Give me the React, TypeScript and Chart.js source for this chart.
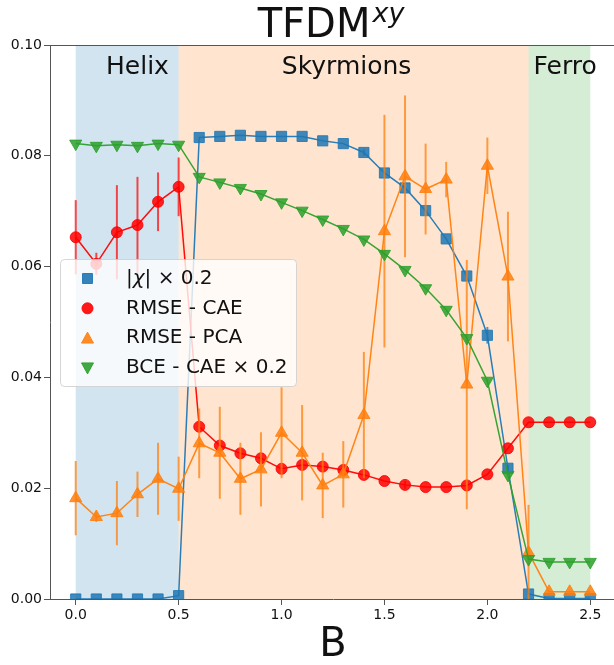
import { useEffect, useRef } from 'react';
import { Chart, registerables } from 'chart.js';

Chart.register(...registerables);

const FONT = '"DejaVu Sans", "Liberation Sans", sans-serif';

const B_VALUES = [0, 0.1, 0.2, 0.3, 0.4, 0.5, 0.6, 0.7, 0.8, 0.9, 1.0, 1.1, 1.2, 1.3, 1.4, 1.5, 1.6, 1.7, 1.8, 1.9, 2.0, 2.1, 2.2, 2.3, 2.4, 2.5];

const CHI = [0, 0, 0, 0, 0, 0.0006, 0.0833, 0.0835, 0.0837, 0.0835, 0.0835, 0.0835, 0.0827, 0.0822, 0.0806, 0.0769, 0.0742, 0.0701, 0.065, 0.0583, 0.0476, 0.0236, 0.0009, 0.0001, 0.0001, 0.0001];
const CHI_ERR = [0, 0, 0, 0, 0, 0, 0, 0, 0, 0, 0, 0, 0, 0, 0.0006, 0, 0, 0, 0, 0, 0.0015, 0.0006, 0, 0, 0, 0];

const RMSE_CAE = [0.0653, 0.0605, 0.0662, 0.0675, 0.0717, 0.0744, 0.0311, 0.0277, 0.0263, 0.0254, 0.0235, 0.0242, 0.0239, 0.0233, 0.0224, 0.0213, 0.0206, 0.0202, 0.0202, 0.0205, 0.0225, 0.0272, 0.0319, 0.0319, 0.0319, 0.0319];
const RMSE_CAE_ERR = [0.0067, 0.002, 0.0085, 0.0087, 0.0053, 0.0053, 0, 0, 0, 0.0005, 0, 0, 0, 0, 0, 0, 0.0007, 0, 0, 0, 0, 0, 0, 0, 0, 0];

const RMSE_PCA = [0.0182, 0.0148, 0.0155, 0.0189, 0.0217, 0.0199, 0.0281, 0.0264, 0.0217, 0.0234, 0.03, 0.0264, 0.0205, 0.0225, 0.0332, 0.0664, 0.0763, 0.074, 0.0757, 0.0387, 0.0782, 0.0582, 0.0084, 0.0013, 0.0013, 0.0013];
const RMSE_PCA_ERR = [0.0067, 0.0009, 0.0058, 0.0041, 0.0065, 0.0058, 0.0063, 0.0083, 0.0065, 0.0067, 0.0082, 0.0086, 0.0059, 0.006, 0.0114, 0.021, 0.0146, 0.0082, 0.0032, 0.0225, 0.0051, 0.0117, 0.0086, 0, 0, 0];

const BCE_CAE = [0.0822, 0.0818, 0.082, 0.0818, 0.0822, 0.082, 0.0762, 0.0752, 0.0742, 0.0731, 0.0716, 0.0701, 0.0685, 0.0668, 0.0649, 0.0623, 0.0594, 0.0561, 0.0522, 0.0471, 0.0394, 0.0224, 0.0072, 0.0067, 0.0067, 0.0067];

const X_TICKS = [0, 0.5, 1.0, 1.5, 2.0, 2.5];
const X_TICK_LABELS = ['0.0', '0.5', '1.0', '1.5', '2.0', '2.5'];
const Y_TICKS = [0, 0.02, 0.04, 0.06, 0.08, 0.1];
const Y_TICK_LABELS = ['0.00', '0.02', '0.04', '0.06', '0.08', '0.10'];

const REGION_NAMES = ['Helix', 'Skyrmions', 'Ferro'];
const REGION_STARTS = [0, 0.5, 2.2];
const REGION_ENDS = [0.5, 2.2, 2.5];
const REGION_COLORS = ['rgba(31,119,180,0.2)', 'rgba(255,127,14,0.2)', 'rgba(44,160,44,0.2)'];
const REGION_LABEL_X = [0.3, 1.316, 2.378];
const REGION_LABEL_Y = [0.0948, 0.0948, 0.0948];

const LEGEND_LABELS = ['|χ| × 0.2', 'RMSE - CAE', 'RMSE - PCA', 'BCE - CAE × 0.2'];

const BLUE = '31,119,180';
const RED = '255,0,0';
const ORANGE = '255,127,14';
const GREEN = '44,160,44';

const AXIS_COLOR = '#555';
const TEXT_COLOR = '#111';

function rgba(c: string, a: number) {
  return `rgba(${c},${a})`;
}

const bgPlugin = {
  id: 'regions',
  beforeDraw(chart: any) {
    const { ctx, chartArea, scales } = chart;
    const x = scales.x;
    ctx.save();
    ctx.beginPath();
    ctx.rect(chartArea.left, chartArea.top, chartArea.right - chartArea.left, chartArea.bottom - chartArea.top);
    ctx.clip();
    for (let i = 0; i < REGION_NAMES.length; i++) {
      const x0 = x.getPixelForValue(REGION_STARTS[i]);
      const x1 = x.getPixelForValue(REGION_ENDS[i]);
      ctx.fillStyle = REGION_COLORS[i];
      ctx.fillRect(x0, chartArea.top, x1 - x0, chartArea.bottom - chartArea.top);
    }
    ctx.restore();
  },
  beforeDatasetsDraw(chart: any) {
    const { ctx, scales } = chart;
    ctx.save();
    ctx.fillStyle = TEXT_COLOR;
    ctx.font = `25px ${FONT}`;
    ctx.textAlign = 'center';
    ctx.textBaseline = 'alphabetic';
    for (let i = 0; i < REGION_NAMES.length; i++) {
      ctx.fillText(REGION_NAMES[i], scales.x.getPixelForValue(REGION_LABEL_X[i]), scales.y.getPixelForValue(REGION_LABEL_Y[i]));
    }
    ctx.restore();
  },
};

const errorPlugin = {
  id: 'errorbars',
  beforeDatasetDraw(chart: any, args: any) {
    const ds = chart.data.datasets[args.index];
    if (!ds.errors) return;
    const { ctx, chartArea, scales } = chart;
    ctx.save();
    ctx.beginPath();
    ctx.rect(chartArea.left, chartArea.top, chartArea.right - chartArea.left, chartArea.bottom - chartArea.top);
    ctx.clip();
    ctx.strokeStyle = ds.errColor;
    ctx.lineWidth = 2;
    ds.data.forEach((p: any, i: number) => {
      const e = ds.errors[i];
      if (!e) return;
      const px = scales.x.getPixelForValue(p.x);
      ctx.beginPath();
      ctx.moveTo(px, scales.y.getPixelForValue(p.y - e));
      ctx.lineTo(px, scales.y.getPixelForValue(p.y + e));
      ctx.stroke();
    });
    ctx.restore();
  },
};

function drawMarker(ctx: CanvasRenderingContext2D, kind: string, x: number, y: number, color: string) {
  ctx.save();
  ctx.fillStyle = rgba(color, 0.9);
  ctx.strokeStyle = rgba(color, 0.9);
  ctx.lineWidth = 1;
  ctx.beginPath();
  if (kind === 'rect') {
    ctx.rect(x - 5, y - 5, 10, 10);
  } else if (kind === 'circle') {
    ctx.arc(x, y, 5.5, 0, Math.PI * 2);
  } else if (kind === 'up') {
    ctx.moveTo(x, y - 6);
    ctx.lineTo(x + 6, y + 5);
    ctx.lineTo(x - 6, y + 5);
    ctx.closePath();
  } else {
    ctx.moveTo(x, y + 6);
    ctx.lineTo(x + 6, y - 5);
    ctx.lineTo(x - 6, y - 5);
    ctx.closePath();
  }
  ctx.fill();
  ctx.stroke();
  ctx.restore();
}

const overlayPlugin = {
  id: 'overlay',
  afterDraw(chart: any) {
    const { ctx, chartArea } = chart;
    ctx.save();
    // top spine
    ctx.strokeStyle = AXIS_COLOR;
    ctx.lineWidth = 1;
    ctx.beginPath();
    ctx.moveTo(chartArea.left, chartArea.top + 0.5);
    ctx.lineTo(chartArea.right, chartArea.top + 0.5);
    ctx.stroke();

    // title TFDM^xy
    const cx = (chartArea.left + chartArea.right) / 2 - 2;
    ctx.fillStyle = TEXT_COLOR;
    ctx.textBaseline = 'alphabetic';
    ctx.textAlign = 'left';
    ctx.font = `40px ${FONT}`;
    const w1 = ctx.measureText('TFDM').width;
    ctx.font = `oblique 27px ${FONT}`;
    const w2 = ctx.measureText('xy').width;
    const start = cx - (w1 + 2 + w2) / 2;
    ctx.font = `40px ${FONT}`;
    ctx.fillText('TFDM', start, 37);
    ctx.font = `oblique 27px ${FONT}`;
    ctx.fillText('xy', start + w1 + 2, 22);

    // x-axis label
    ctx.font = `40px ${FONT}`;
    ctx.textAlign = 'center';
    ctx.fillText('B', (chartArea.left + chartArea.right) / 2, 656);

    // legend
    const lx = 60, ly = 259, lw = 236, lh = 127;
    ctx.beginPath();
    if ((ctx as any).roundRect) (ctx as any).roundRect(lx + 0.5, ly + 0.5, lw, lh, 4);
    else ctx.rect(lx + 0.5, ly + 0.5, lw, lh);
    ctx.fillStyle = 'rgba(255,255,255,0.8)';
    ctx.fill();
    ctx.strokeStyle = 'rgba(204,204,204,0.8)';
    ctx.stroke();

    const kinds = ['rect', 'circle', 'up', 'down'];
    const colors = [BLUE, RED, ORANGE, GREEN];
    for (let i = 0; i < LEGEND_LABELS.length; i++) {
      const ry = ly + 19.5 + i * 29.8;
      drawMarker(ctx, kinds[i], 87.5, ry, colors[i]);
      ctx.fillStyle = TEXT_COLOR;
      ctx.textAlign = 'left';
      ctx.textBaseline = 'middle';
      const label = LEGEND_LABELS[i];
      if (i === 0) {
        let tx = 126;
        const parts: [string, string][] = [
          [label.slice(0, 1), `20px ${FONT}`],
          [label.slice(1, 2), `oblique 20px ${FONT}`],
          [label.slice(2), `20px ${FONT}`],
        ];
        for (const [t, f] of parts) {
          ctx.font = f;
          ctx.fillText(t, tx, ry);
          tx += ctx.measureText(t).width;
        }
      } else {
        ctx.font = `20px ${FONT}`;
        ctx.fillText(label, 126, ry);
      }
    }
    ctx.restore();
  },
};

function makeData(ys: number[]) {
  return B_VALUES.map((x, i) => ({ x, y: ys[i] }));
}

export default function App() {
  const ref = useRef<HTMLCanvasElement | null>(null);

  useEffect(() => {
    const canvas = ref.current;
    if (!canvas) return;
    const chart = new Chart(canvas, {
      type: 'line',
      data: {
        datasets: [
          {
            label: LEGEND_LABELS[0],
            data: makeData(CHI),
            errors: CHI_ERR,
            errColor: rgba(BLUE, 0.75),
            borderColor: rgba(BLUE, 0.95),
            backgroundColor: rgba(BLUE, 0.85),
            pointBackgroundColor: rgba(BLUE, 0.85),
            pointBorderColor: rgba(BLUE, 0.85),
            pointStyle: 'rect',
            pointRadius: 7.2,
            pointBorderWidth: 1,
            borderWidth: 1.5,
            order: 4,
            clip: 0,
          } as any,
          {
            label: LEGEND_LABELS[1],
            data: makeData(RMSE_CAE),
            errors: RMSE_CAE_ERR,
            errColor: rgba(RED, 0.7),
            borderColor: rgba(RED, 0.95),
            backgroundColor: rgba(RED, 0.85),
            pointBackgroundColor: rgba(RED, 0.85),
            pointBorderColor: rgba(RED, 0.85),
            pointStyle: 'circle',
            pointRadius: 5.5,
            pointBorderWidth: 1,
            borderWidth: 1.5,
            order: 3,
            clip: 0,
          } as any,
          {
            label: LEGEND_LABELS[2],
            data: makeData(RMSE_PCA),
            errors: RMSE_PCA_ERR,
            errColor: rgba(ORANGE, 0.75),
            borderColor: rgba(ORANGE, 0.95),
            backgroundColor: rgba(ORANGE, 0.85),
            pointBackgroundColor: rgba(ORANGE, 0.85),
            pointBorderColor: rgba(ORANGE, 0.85),
            pointStyle: 'triangle',
            pointRadius: 7,
            pointBorderWidth: 1,
            borderWidth: 1.5,
            order: 2,
            clip: 0,
          } as any,
          {
            label: LEGEND_LABELS[3],
            data: makeData(BCE_CAE),
            borderColor: rgba(GREEN, 0.95),
            backgroundColor: rgba(GREEN, 0.85),
            pointBackgroundColor: rgba(GREEN, 0.85),
            pointBorderColor: rgba(GREEN, 0.85),
            pointStyle: 'triangle',
            pointRotation: 180,
            pointRadius: 7,
            pointBorderWidth: 1,
            borderWidth: 1.5,
            order: 1,
            clip: 0,
          } as any,
        ],
      },
      options: {
        animation: false,
        responsive: false,
        devicePixelRatio: 1,
        layout: { autoPadding: false, padding: { top: 45, left: 0, right: 0, bottom: 0 } },
        plugins: {
          legend: { display: false },
          title: { display: false },
          tooltip: { enabled: false },
        },
        elements: { line: { tension: 0 } },
        scales: {
          x: {
            type: 'linear',
            min: -0.125,
            max: 2.625,
            afterFit: (s: any) => {
              s.height = 66;
              s.paddingLeft = 0;
              s.paddingRight = 0;
            },
            afterBuildTicks: (s: any) => {
              s.ticks = X_TICKS.map((v) => ({ value: v }));
            },
            ticks: {
              callback: (_v: any, i: number) => X_TICK_LABELS[i],
              font: { family: FONT, size: 14 },
              color: TEXT_COLOR,
              padding: 2,
              maxRotation: 0,
              autoSkip: false,
            },
            grid: { drawOnChartArea: false, drawTicks: true, tickLength: 6, color: AXIS_COLOR },
            border: { display: true, color: AXIS_COLOR, width: 1 },
          },
          y: {
            type: 'linear',
            min: 0,
            max: 0.1,
            afterFit: (s: any) => {
              s.width = 50;
              s.paddingTop = 0;
              s.paddingBottom = 0;
            },
            afterBuildTicks: (s: any) => {
              s.ticks = Y_TICKS.map((v) => ({ value: v }));
            },
            ticks: {
              callback: (_v: any, i: number) => Y_TICK_LABELS[i],
              font: { family: FONT, size: 14 },
              color: TEXT_COLOR,
              padding: 2,
              autoSkip: false,
            },
            grid: { drawOnChartArea: false, drawTicks: true, tickLength: 6, color: AXIS_COLOR },
            border: { display: true, color: AXIS_COLOR, width: 1 },
          },
        },
      } as any,
      plugins: [bgPlugin, errorPlugin, overlayPlugin],
    });
    return () => chart.destroy();
  }, []);

  return (
    <div style={{ position: 'fixed', left: 0, top: 0, width: 614, height: 665, overflow: 'hidden', background: '#fff' }}>
      <canvas ref={ref} width={616} height={665} style={{ display: 'block' }} />
    </div>
  );
}
